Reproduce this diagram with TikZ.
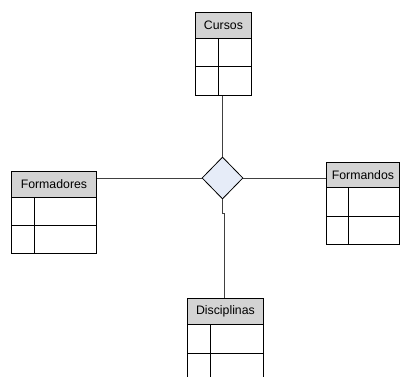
\documentclass[tikz,border=0pt]{standalone}
\usepackage{fontspec}
\setmainfont{Liberation Sans}
\usetikzlibrary{shapes.geometric}
\definecolor{hdrgray}{HTML}{D3D3D3}
\definecolor{diafill}{HTML}{E6ECF8}
\tikzset{
  tblhead/.style={draw=black, fill=hdrgray, line width=0.9pt, inner sep=0pt, anchor=north west, font=\fontsize{12.3}{14}\selectfont},
  tblbody/.style={draw=black, line width=0.9pt, inner sep=0pt, anchor=north west},
  rowline/.style={draw=black, line width=0.9pt},
  relbox/.style={diamond, draw=black, fill=diafill, line width=0.8pt, inner sep=0pt, minimum width=41pt, minimum height=42pt},
  conn/.style={draw=black!75, line width=0.9pt}
}
\begin{document}
\begin{tikzpicture}[x=1pt,y=-1pt]
\useasboundingbox (0,0) rectangle (400,376);
\clip (0,0) rectangle (400,376);
% Cursos
\node[tblhead, minimum width=56pt, minimum height=26pt] (cuh) at (195,12) {Cursos};
\node[tblbody, minimum width=56pt, minimum height=57pt] (cub) at (195,38) {};
\draw[rowline] (195,66) -- (251,66) (218,38) -- (218,95);
% Formadores
\node[tblhead, minimum width=85pt, minimum height=26pt] (foh) at (11,171) {Formadores};
\node[tblbody, minimum width=85pt, minimum height=56pt] (fob) at (11,197) {};
\draw[rowline] (11,225) -- (96,225) (34,197) -- (34,253);
% Formandos
\node[tblhead, minimum width=73pt, minimum height=25pt] (fnh) at (326,162) {Formandos};
\node[tblbody, minimum width=73pt, minimum height=57pt] (fnb) at (326,187) {};
\draw[rowline] (326,216) -- (399,216) (348,187) -- (348,244);
% Disciplinas
\node[tblhead, minimum width=76pt, minimum height=26pt] (dih) at (187,298) {Disciplinas};
\node[tblbody, minimum width=76pt, minimum height=60pt] (dib) at (187,324) {};
\draw[rowline] (187,353) -- (263,353) (210,324) -- (210,384);
% Relationship
\node[relbox] (rel) at (222.5,178) {};
% Connectors
\draw[conn] (rel.north) -- (rel.north |- cub.south);
\draw[conn] (rel.west) -- (rel.west -| foh.east);
\draw[conn] (rel.east) -- (rel.east -| fnh.west);
\coordinate (jog) at (222.5,213);
\draw[conn] (rel.south) -- (jog) -| ([xshift=-1pt]dih.north);
\end{tikzpicture}
\end{document}
